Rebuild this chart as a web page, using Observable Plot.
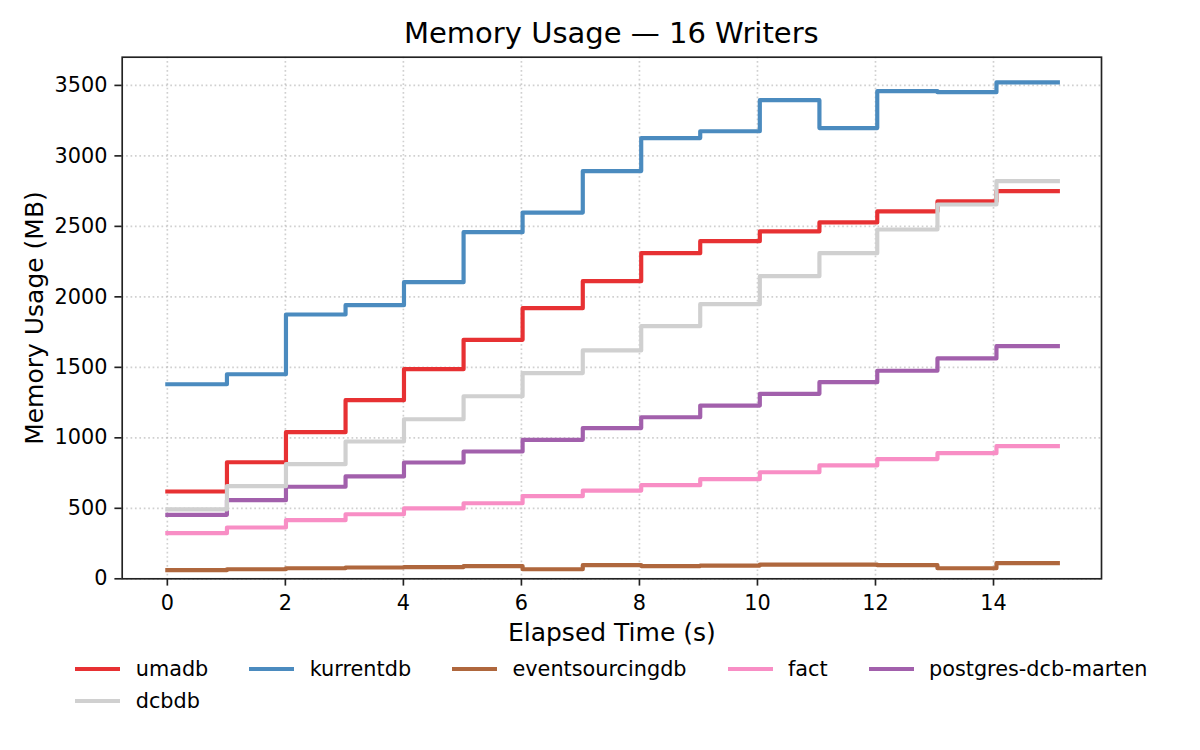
<!DOCTYPE html>
<html>
<head>
<meta charset="utf-8">
<script src="https://cdn.jsdelivr.net/npm/d3@7"></script>
<script src="https://cdn.jsdelivr.net/npm/@observablehq/plot@0.6"></script>
<style>
  html, body { margin: 0; padding: 0; background: white; }
  #wrap { position: relative; width: 1200px; height: 750px; font-family: "DejaVu Sans", sans-serif; color: black; }
  #title { position: absolute; z-index: 2; top: 0; left: 121.7px; width: 979.3px; text-align: center; font-size: 29px; line-height: 66px; height: 44px; overflow: visible; white-space: nowrap; }
  #chart { position: absolute; z-index: 1; top: 44px; left: 0; }
  #legend { position: absolute; top: 657px; left: 121.7px; width: 979.3px; display: grid; grid-template-columns: repeat(5, auto); column-gap: 41px; row-gap: 7.7px; justify-content: center; }
  .item { display: flex; align-items: center; height: 24px; font-size: 20.8px; white-space: nowrap; }
  .swatch { display: inline-block; width: 45px; height: 4.2px; margin-right: 15.4px; }
</style>
</head>
<body>
<div id="wrap">
  <div id="title">Memory Usage — 16 Writers</div>
  <div id="chart"></div>
  <div id="legend"></div>
</div>
<script>
// Elapsed time samples (s)
const times = [0, 1.01, 2.01, 3.02, 4.01, 5.02, 6.02, 7.04, 8.03, 9.03, 10.04, 11.05, 12.03, 13.05, 14.05, 15.09];

// Memory usage (MB) per series
const umadb = [619, 827, 1040, 1267, 1487, 1695, 1920, 2111, 2310, 2395, 2464, 2528, 2606, 2677, 2750, 2750];
const kurrentdb = [1380, 1451, 1875, 1941, 2104, 2459, 2598, 2892, 3126, 3175, 3395, 3197, 3459, 3452, 3521, 3521];
const eventsourcingdb = [61, 68, 75, 80, 83, 90, 68, 97, 90, 94, 101, 101, 97, 75, 111, 111];
const fact = [324, 364, 416, 458, 499, 536, 586, 626, 664, 707, 756, 804, 849, 891, 941, 941];
const postgresDcbMarten = [454, 558, 653, 726, 825, 903, 986, 1069, 1146, 1229, 1312, 1395, 1476, 1563, 1650, 1650];
const dcbdb = [492, 657, 813, 974, 1132, 1295, 1459, 1620, 1792, 1948, 2147, 2310, 2478, 2655, 2821, 2821];

const seriesNames = ["umadb", "kurrentdb", "eventsourcingdb", "fact", "postgres-dcb-marten", "dcbdb"];
const seriesValues = [umadb, kurrentdb, eventsourcingdb, fact, postgresDcbMarten, dcbdb];
const seriesColors = ["#e73133", "#4b8bbf", "#af673d", "#f88ec5", "#a260ac", "#d0d0d0"];

const xTicks = [0, 2, 4, 6, 8, 10, 12, 14];
const yTicks = [0, 500, 1000, 1500, 2000, 2500, 3000, 3500];

const data = [];
seriesNames.forEach((name, si) => {
  seriesValues[si].forEach((v, i) => data.push({series: name, t: times[i], v}));
});

const gridStyle = {stroke: "#b0b0b0", strokeOpacity: 0.6, strokeWidth: 1.67, strokeDasharray: "1.67,2.75"};

const chart = Plot.plot({
  width: 1200,
  height: 616,
  marginTop: 12.7,
  marginBottom: 81.7,
  marginLeft: 121.7,
  marginRight: 99,
  x: {domain: [-0.765, 15.83]},
  y: {domain: [0, 3700]},
  color: {domain: seriesNames, range: seriesColors},
  style: {fontFamily: "DejaVu Sans", background: "transparent", overflow: "visible", color: "black"},
  marks: [
    Plot.gridX(xTicks, gridStyle),
    Plot.gridY(yTicks, gridStyle),
    Plot.line(data, {x: "t", y: "v", z: "series", stroke: "series", curve: "step-after", strokeWidth: 4.17, strokeLinecap: "square", strokeLinejoin: "round"}),
    Plot.frame({stroke: "#222", strokeWidth: 1.67}),
    Plot.axisX(xTicks, {tickSize: 7.3, tickPadding: 9, fontSize: 20.8, label: null, stroke: "#222", strokeWidth: 1.67, fill: "black", tickFormat: "d"}),
    Plot.axisY(yTicks, {tickSize: 7.3, tickPadding: 7.4, fontSize: 20.8, label: null, stroke: "#222", strokeWidth: 1.67, fill: "black", tickFormat: "d"}),
    Plot.text(["Elapsed Time (s)"], {text: d => d, frameAnchor: "bottom", lineAnchor: "middle", textAnchor: "middle", dy: 54.4, fontSize: 25, fill: "black"}),
    Plot.text(["Memory Usage (MB)"], {text: d => d, frameAnchor: "left", lineAnchor: "middle", textAnchor: "middle", dx: -87.7, rotate: -90, fontSize: 25, fill: "black"})
  ]
});
document.getElementById("chart").appendChild(chart);

const legend = document.getElementById("legend");
seriesNames.forEach((name, i) => {
  const item = document.createElement("div");
  item.className = "item";
  const sw = document.createElement("span");
  sw.className = "swatch";
  sw.style.background = seriesColors[i];
  const label = document.createElement("span");
  label.textContent = name;
  item.appendChild(sw);
  item.appendChild(label);
  legend.appendChild(item);
});
</script>
</body>
</html>
